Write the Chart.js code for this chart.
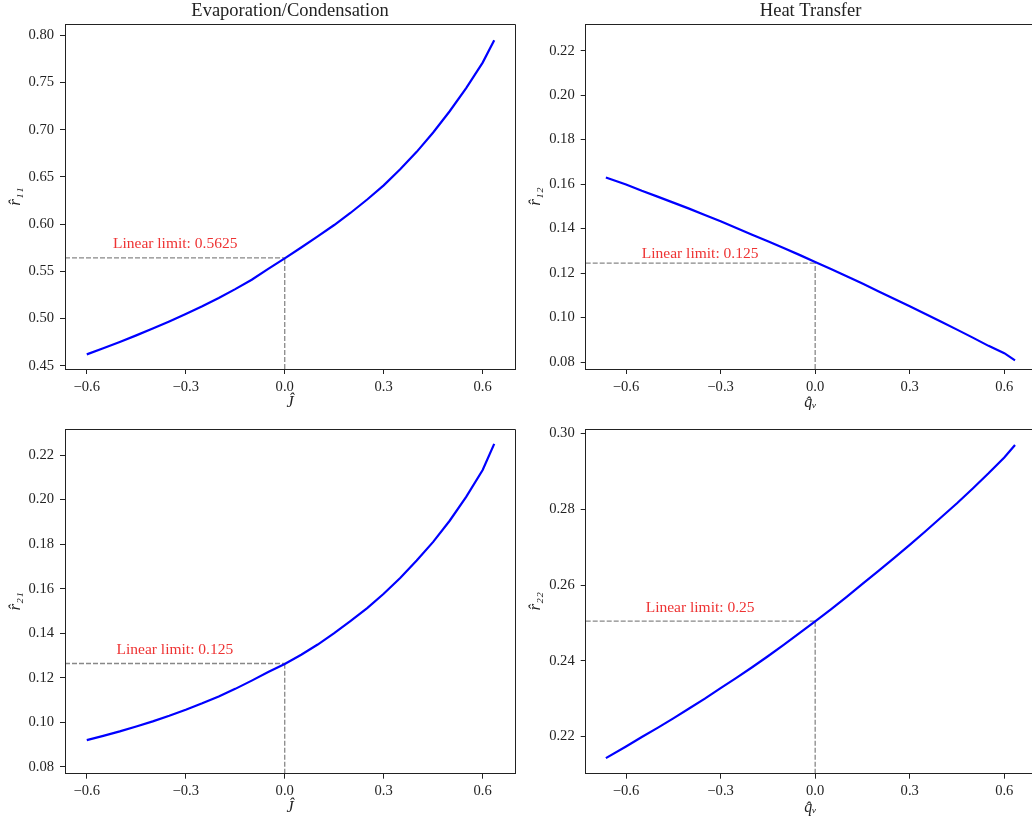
<!DOCTYPE html>
<html>
<head>
<meta charset="utf-8">
<script src="https://cdn.jsdelivr.net/npm/chart.js@4"></script>
<style>
  html, body { margin: 0; padding: 0; background: #fff; overflow: hidden; width: 1032px; height: 822px; }
  canvas { position: absolute; }
</style>
</head>
<body>
<canvas id="c11" width="520" height="410" style="left:0;top:0"></canvas>
<canvas id="c12" width="520" height="410" style="left:520px;top:0"></canvas>
<canvas id="c21" width="520" height="412" style="left:0;top:410px"></canvas>
<canvas id="c22" width="520" height="412" style="left:520px;top:410px"></canvas>
<script>
// evaporation / condensation: x = J hat
const xJ  = [-0.60, -0.55, -0.50, -0.45, -0.40, -0.35, -0.30, -0.25, -0.20, -0.15, -0.10, -0.05, 0.00,
             0.05, 0.10, 0.15, 0.20, 0.25, 0.30, 0.35, 0.40, 0.45, 0.50, 0.55, 0.60, 0.635];
const r11 = [0.4620, 0.4685, 0.4752, 0.4821, 0.4893, 0.4968, 0.5047, 0.5130, 0.5218, 0.5311, 0.5410, 0.5525, 0.5637,
             0.5752, 0.5870, 0.5990, 0.6120, 0.6260, 0.6410, 0.6580, 0.6765, 0.6970, 0.7195, 0.7440, 0.7710, 0.7947];
const r21 = [0.0920, 0.0939, 0.0959, 0.0981, 0.1004, 0.1029, 0.1056, 0.1085, 0.1116, 0.1150, 0.1187, 0.1226, 0.1262,
             0.1303, 0.1349, 0.1400, 0.1455, 0.1513, 0.1577, 0.1648, 0.1726, 0.1810, 0.1905, 0.2012, 0.2133, 0.2250];

// heat transfer: x = q_v hat
const xQ  = [-0.664, -0.60, -0.55, -0.50, -0.45, -0.40, -0.35, -0.30, -0.25, -0.20, -0.15, -0.10, -0.05, 0.00,
             0.05, 0.10, 0.15, 0.20, 0.25, 0.30, 0.35, 0.40, 0.45, 0.50, 0.55, 0.60, 0.634];
const r12 = [0.1630, 0.1598, 0.1570, 0.1544, 0.1517, 0.1490, 0.1461, 0.1433, 0.1403, 0.1373, 0.1343, 0.1313, 0.1282, 0.1250,
             0.1218, 0.1186, 0.1153, 0.1119, 0.1085, 0.1051, 0.1016, 0.0981, 0.0946, 0.0910, 0.0873, 0.0840, 0.0808];
const r22 = [0.2143, 0.2174, 0.2199, 0.2223, 0.2248, 0.2274, 0.2300, 0.2328, 0.2355, 0.2383, 0.2412, 0.2442, 0.2473, 0.2504,
             0.2536, 0.2569, 0.2603, 0.2637, 0.2671, 0.2706, 0.2742, 0.2779, 0.2816, 0.2855, 0.2895, 0.2937, 0.2970];

// tick labels
const xTicks    = [-0.6, -0.3, 0.0, 0.3, 0.6];
const yTicks11  = [0.45, 0.50, 0.55, 0.60, 0.65, 0.70, 0.75, 0.80];
const yTicks12  = [0.08, 0.10, 0.12, 0.14, 0.16, 0.18, 0.20, 0.22];
const yTicks21  = [0.08, 0.10, 0.12, 0.14, 0.16, 0.18, 0.20, 0.22];
const yTicks22  = [0.22, 0.24, 0.26, 0.28, 0.30];

// linear limit markers (value at x = 0) and their labels
const limitY     = [0.5643, 0.1245, 0.1264, 0.2505];
const limitText  = ['Linear limit: 0.5625', 'Linear limit: 0.125', 'Linear limit: 0.125', 'Linear limit: 0.25'];
const limitTextX = [-0.332, -0.365, -0.333, -0.365];

const FONT = '"Liberation Serif", "DejaVu Serif", serif';
const INK = '#222';

const fmt = (v, d) => {
  const s = Number(v).toFixed(d);
  return s.startsWith('-') ? '\u2212' + s.slice(1) : s;
};

// box around the plot area + red annotation
const frame = {
  id: 'frame',
  afterDraw(chart, args, opts) {
    const { ctx, chartArea: a, scales: { x, y } } = chart;
    const l = Math.floor(a.left) + 0.5, r = Math.min(Math.floor(a.right), chart.width - 1) + 0.5;
    const t = Math.floor(a.top) + 0.5, b = Math.floor(a.bottom) + 0.5;
    ctx.save();
    ctx.strokeStyle = INK;
    ctx.lineWidth = 1;
    ctx.setLineDash([]);
    ctx.beginPath();
    ctx.moveTo(l, t); ctx.lineTo(r, t);
    ctx.lineTo(r, b); ctx.lineTo(l, b);
    ctx.closePath();
    ctx.stroke();
    ctx.fillStyle = '#ee3333';
    ctx.font = '15.5px ' + FONT;
    ctx.textAlign = 'center';
    ctx.textBaseline = 'middle';
    ctx.fillText(opts.text, x.getPixelForValue(opts.tx), y.getPixelForValue(opts.ty) - opts.dy);
    ctx.restore();
  }
};

function panel(id, p) {
  const pts = p.xs.map((x, i) => ({ x, y: p.ys[i] }));
  new Chart(document.getElementById(id), {
    type: 'line',
    data: {
      datasets: [
        { data: pts, borderColor: '#0000ff', borderWidth: 2.2, pointRadius: 0, tension: 0, order: 0 },
        { data: [{ x: p.xMin, y: p.lim }, { x: 0, y: p.lim }],
          borderColor: '#888', borderWidth: 1.3, borderDash: [5, 2], pointRadius: 0, order: 1 },
        { data: [{ x: 0, y: p.yMin }, { x: 0, y: p.lim }],
          borderColor: '#888', borderWidth: 1.3, borderDash: [5, 2], pointRadius: 0, order: 1 }
      ]
    },
    options: {
      responsive: false,
      animation: false,
      events: [],
      layout: { padding: { top: p.padTop, right: p.padRight, left: 0, bottom: 0 } },
      plugins: {
        legend: { display: false },
        tooltip: { enabled: false },
        title: {
          display: !!p.title, text: p.title, fullSize: false, color: INK,
          font: { family: FONT, size: 18.5, weight: 'normal' },
          padding: { top: 0, bottom: 2 }
        },
        frame: { text: p.text, tx: p.tx, ty: p.lim, dy: p.dy }
      },
      scales: {
        x: {
          type: 'linear', min: p.xMin, max: p.xMax,
          afterBuildTicks: s => { s.ticks = xTicks.map(v => ({ value: v })); },
          afterFit: s => { s.height = p.xH; },
          ticks: { callback: v => fmt(v, 1), color: INK, font: { family: FONT, size: 14.6 }, padding: 4, maxRotation: 0, autoSkip: false },
          grid: { drawOnChartArea: false, tickLength: 5, tickColor: INK },
          border: { color: INK },
          title: { display: true, text: p.xLabel, color: INK, font: { family: FONT, size: 16, style: 'italic', lineHeight: 1 },
                   padding: { top: 0, bottom: p.xTitlePad } }
        },
        y: {
          type: 'linear', min: p.yMin, max: p.yMax,
          afterBuildTicks: s => { s.ticks = p.yTicks.map(v => ({ value: v })); },
          afterFit: s => { s.width = p.yW; },
          ticks: { callback: v => fmt(v, 2), color: INK, font: { family: FONT, size: 14.6 }, padding: 6, autoSkip: false },
          grid: { drawOnChartArea: false, tickLength: 5, tickColor: INK },
          border: { color: INK },
          title: { display: true, text: p.yLabel, color: INK, font: { family: FONT, size: 17, style: 'italic', lineHeight: 1 },
                   padding: { top: 7, bottom: 0 } }
        }
      }
    },
    plugins: [frame]
  });
}

panel('c11', { xs: xJ, ys: r11, xMin: -0.666, xMax: 0.698, yMin: 0.4465, yMax: 0.8117, yTicks: yTicks11,
  lim: limitY[0], text: limitText[0], tx: limitTextX[0], dy: 14,
  title: 'Evaporation/Condensation', padTop: 0, padRight: 5, yW: 65, xH: 41, xTitlePad: -1,
  xLabel: '\u0134', yLabel: 'r\u0302\u2081\u2081' });

panel('c12', { xs: xQ, ys: r12, xMin: -0.728, xMax: 0.699, yMin: 0.0769, yMax: 0.2319, yTicks: yTicks12,
  lim: limitY[1], text: limitText[1], tx: limitTextX[1], dy: 9,
  title: 'Heat Transfer', padTop: 0, padRight: 4.5, yW: 65.7, xH: 41, xTitlePad: -1,
  xLabel: 'q\u0302\u1d65', yLabel: 'r\u0302\u2081\u2082' });

panel('c21', { xs: xJ, ys: r21, xMin: -0.666, xMax: 0.698, yMin: 0.0769, yMax: 0.2317, yTicks: yTicks21,
  lim: limitY[2], text: limitText[2], tx: limitTextX[2], dy: 14,
  title: '', padTop: 19, padRight: 5, yW: 65, xH: 48.3, xTitlePad: 6,
  xLabel: '\u0134', yLabel: 'r\u0302\u2082\u2081' });

panel('c22', { xs: xQ, ys: r22, xMin: -0.728, xMax: 0.699, yMin: 0.2102, yMax: 0.3012, yTicks: yTicks22,
  lim: limitY[3], text: limitText[3], tx: limitTextX[3], dy: 13,
  title: '', padTop: 19, padRight: 4.5, yW: 65.7, xH: 48.3, xTitlePad: 6,
  xLabel: 'q\u0302\u1d65', yLabel: 'r\u0302\u2082\u2082' });
</script>
</body>
</html>
